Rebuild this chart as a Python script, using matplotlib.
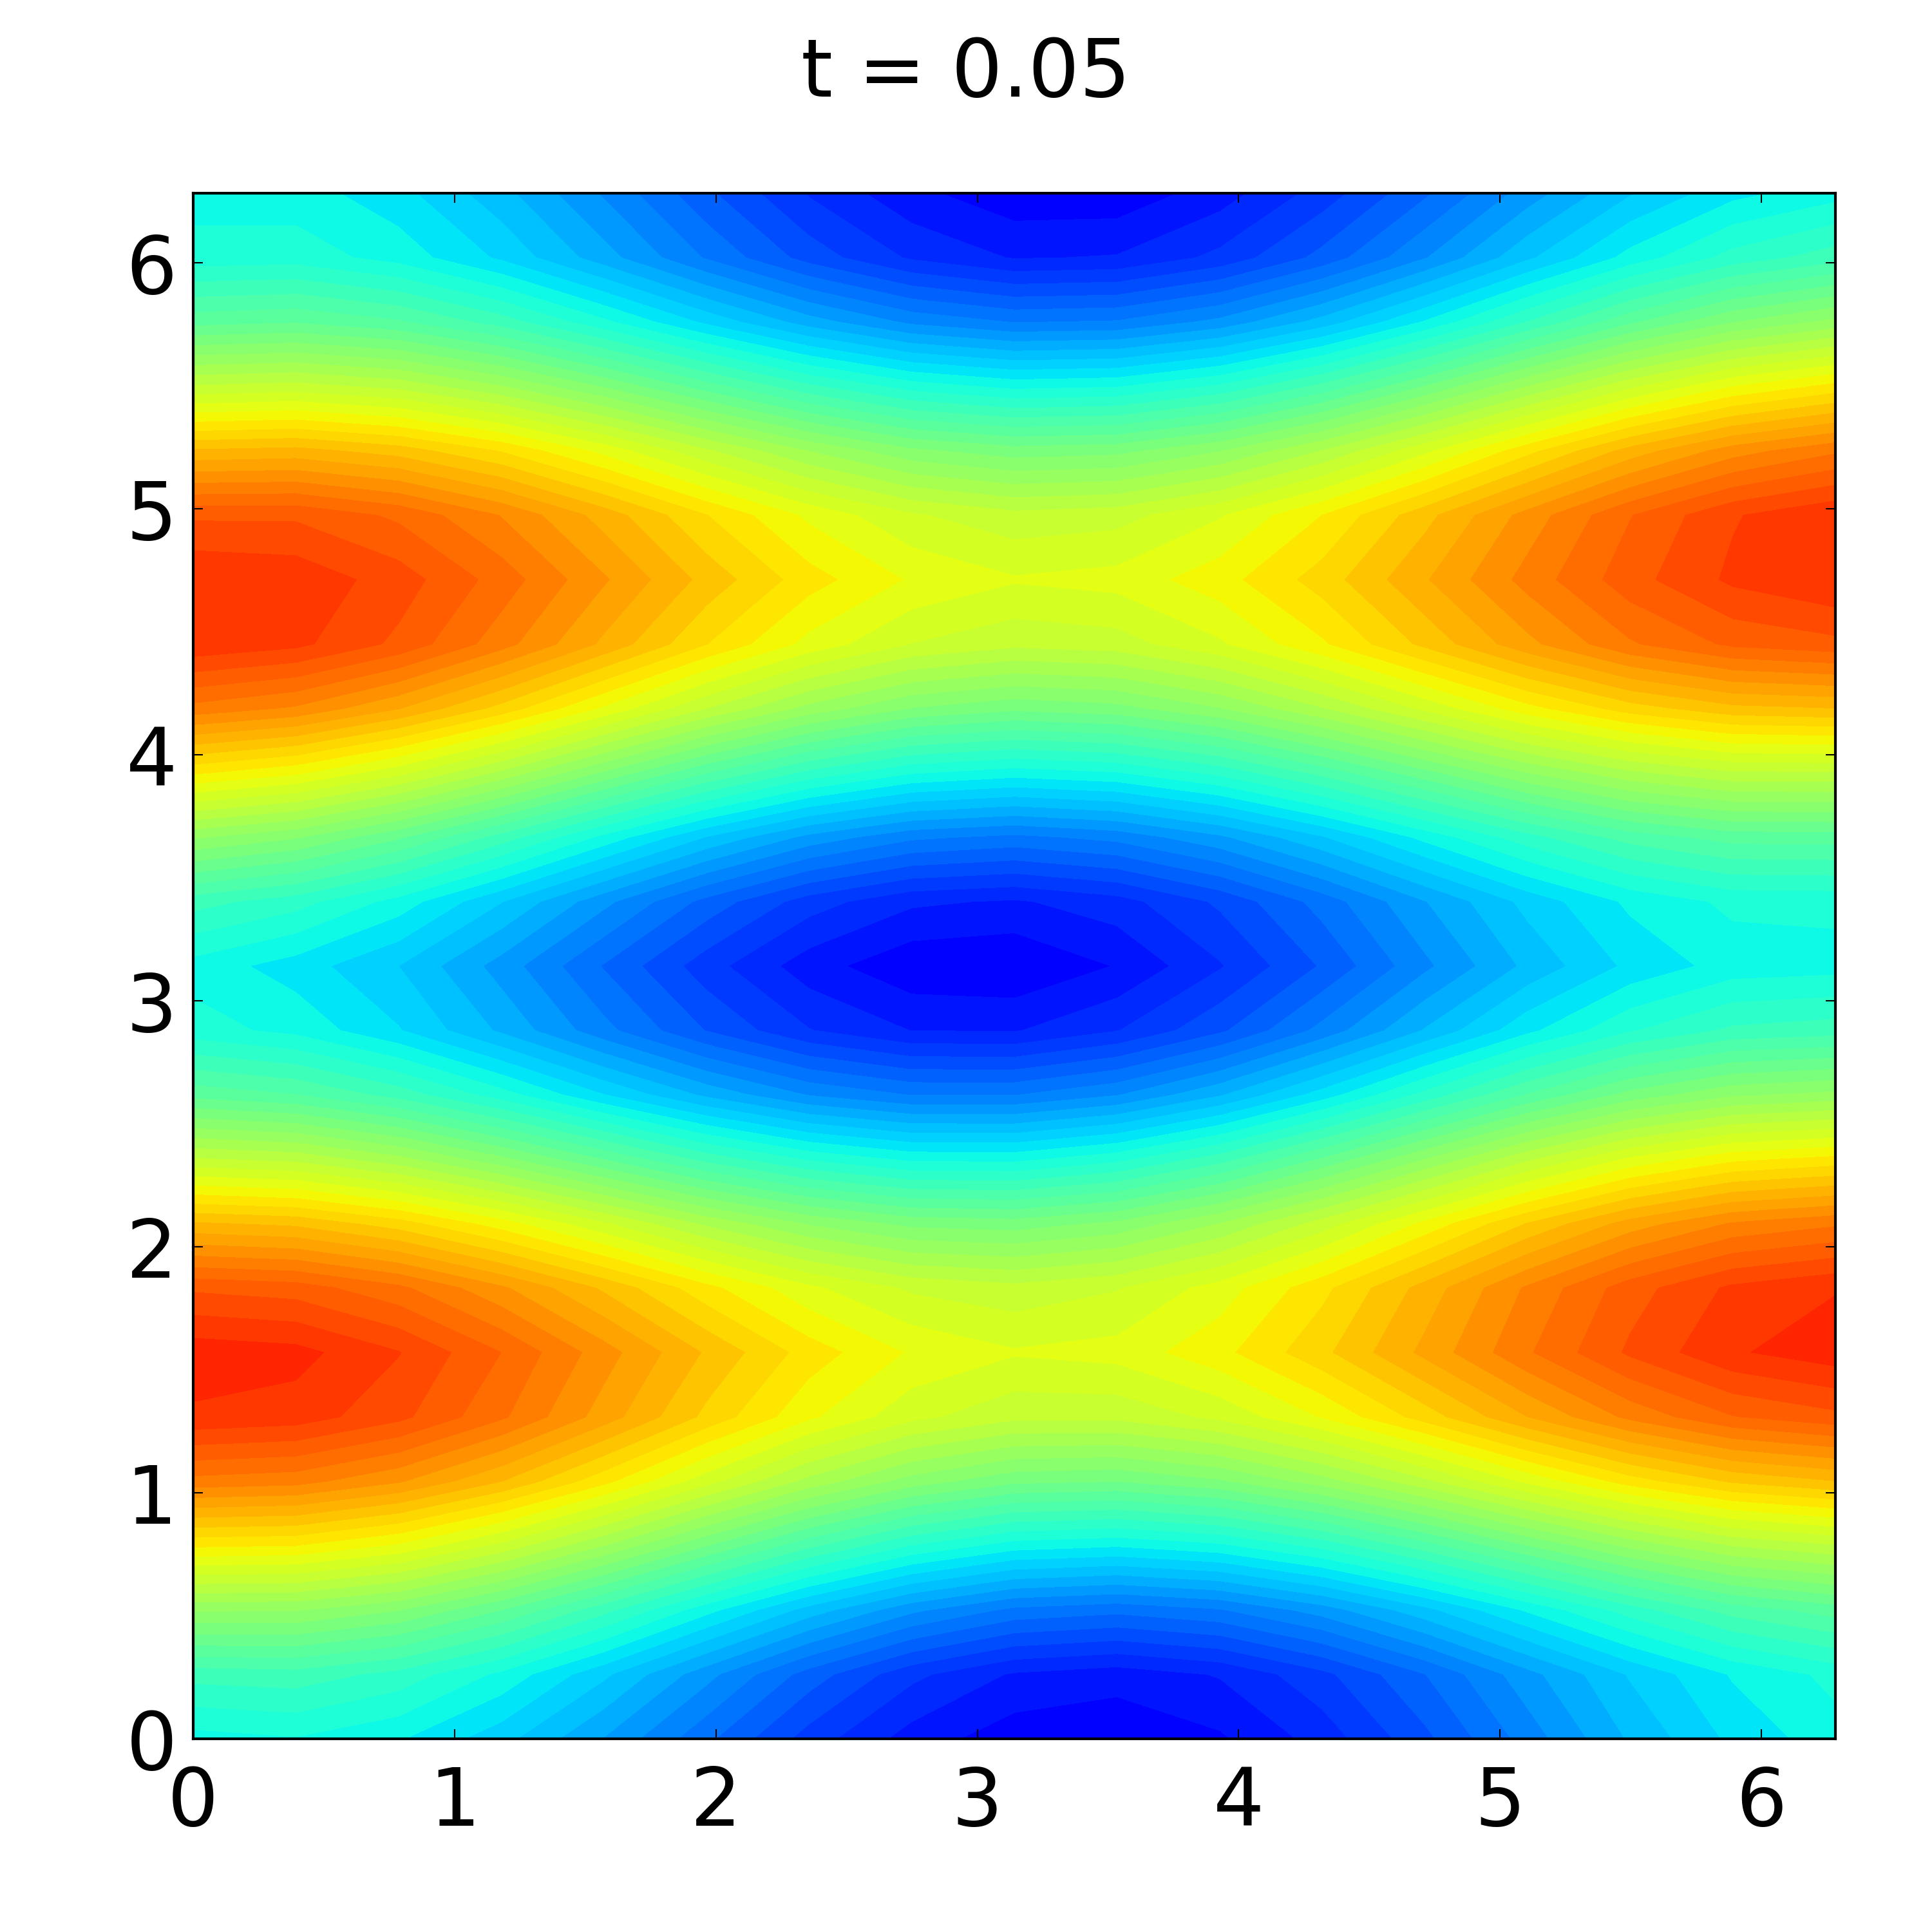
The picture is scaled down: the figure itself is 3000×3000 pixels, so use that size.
from matplotlib import pyplot as plt
import matplotlib as mpl
import numpy as np

mpl.rc('font', family='DejaVu Sans', size=30)
mpl.rc('axes', linewidth=1)

title = "t = 0.05"
x_ticks = [0, 1, 2, 3, 4, 5, 6]
y_ticks = [0, 1, 2, 3, 4, 5, 6]

# field values, as position on the jet scale (0 to 1)
# one row per y, from bottom to top, 17 columns from x=0 to x=2pi
row00 = [.370, .376, .361, .329, .284, .234, .184, .147, .126, .122, .134, .163, .206, .256, .306, .345, .370]
row01 = [.422, .425, .408, .373, .326, .273, .221, .179, .153, .145, .157, .187, .229, .278, .324, .361, .383]
row02 = [.528, .527, .508, .470, .421, .366, .314, .271, .243, .235, .246, .275, .316, .362, .405, .441, .460]
row03 = [.658, .655, .633, .594, .544, .489, .437, .395, .368, .361, .373, .402, .443, .488, .530, .563, .579]
row04 = [.778, .773, .750, .711, .661, .607, .556, .517, .493, .489, .504, .535, .576, .622, .664, .695, .710]
row05 = [.855, .850, .827, .788, .739, .687, .640, .605, .586, .586, .604, .638, .682, .729, .771, .802, .816]
row06 = [.870, .865, .841, .803, .756, .708, .665, .634, .620, .625, .649, .687, .734, .782, .825, .856, .870]
row07 = [.818, .812, .789, .751, .707, .661, .622, .596, .587, .598, .626, .668, .718, .769, .813, .844, .857]
row08 = [.713, .706, .682, .645, .602, .558, .523, .501, .497, .511, .544, .589, .641, .693, .737, .768, .781]
row09 = [.583, .575, .550, .512, .469, .426, .393, .373, .372, .390, .424, .472, .525, .577, .621, .650, .661]
row10 = [.463, .452, .425, .386, .341, .299, .265, .247, .247, .265, .301, .349, .402, .453, .495, .522, .531]
row11 = [.385, .372, .342, .300, .254, .210, .175, .155, .154, .173, .207, .254, .305, .354, .394, .418, .424]
row12 = [.370, .350, .322, .277, .228, .182, .145, .123, .120, .138, .172, .213, .262, .308, .345, .367, .370]
row13 = [.422, .404, .370, .323, .272, .223, .183, .159, .153, .166, .196, .237, .284, .328, .363, .382, .383]
row14 = [.528, .509, .473, .425, .372, .321, .279, .252, .243, .254, .281, .320, .365, .407, .441, .459, .460]
row15 = [.658, .640, .605, .558, .504, .452, .409, .379, .368, .376, .401, .439, .482, .525, .558, .578, .579]
row16 = [.778, .763, .730, .685, .633, .581, .537, .506, .493, .500, .524, .561, .604, .648, .683, .705, .710]
row17 = [.855, .845, .817, .774, .725, .674, .630, .599, .586, .591, .615, .652, .697, .742, .782, .807, .816]
row18 = [.858, .853, .831, .795, .750, .704, .663, .634, .620, .625, .647, .682, .727, .773, .814, .844, .858]
row19 = [.818, .818, .799, .765, .721, .674, .632, .602, .587, .592, .616, .655, .704, .755, .802, .838, .857]
row20 = [.713, .717, .702, .672, .630, .584, .543, .511, .497, .501, .524, .563, .613, .667, .718, .757, .781]
row21 = [.583, .588, .575, .545, .505, .460, .418, .387, .372, .376, .399, .438, .489, .544, .595, .636, .661]
row22 = [.463, .468, .454, .424, .382, .336, .294, .262, .247, .250, .272, .311, .361, .415, .466, .506, .531]
row23 = [.385, .387, .370, .337, .293, .246, .203, .171, .154, .157, .179, .217, .265, .318, .366, .403, .424]
row24 = [.370, .368, .347, .310, .264, .215, .172, .142, .124, .124, .146, .182, .226, .275, .320, .353, .370]

rows = [row00, row01, row02, row03, row04, row05, row06, row07, row08, row09, row10, row11, row12,
        row13, row14, row15, row16, row17, row18, row19, row20, row21, row22, row23, row24]
z = np.array(rows)
x = np.linspace(0, 2*np.pi, z.shape[1])
y = np.linspace(0, 2*np.pi, z.shape[0])

fig = plt.figure(figsize=(10, 10), dpi=300)
ax = fig.add_axes([0.1, 0.1, 0.85, 0.8])

ax.contourf(x, y, z, levels=np.arange(0.10, 0.90, 0.0185), cmap='jet', vmin=0, vmax=1, antialiased=False)

ax.set_xlim(0, 2*np.pi)
ax.set_ylim(0, 2*np.pi)
ax.set_xticks(x_ticks)
ax.set_yticks(y_ticks)
ax.tick_params(axis='both', direction='in', top=True, right=True, length=3.5, width=0.5)
ax.tick_params(axis='x', pad=9.5)
ax.tick_params(axis='y', pad=6)

fig.text(0.5, 0.95, title, ha='center', va='baseline', fontsize=30)

fig.savefig('out.png', dpi=300)
plt.close()
